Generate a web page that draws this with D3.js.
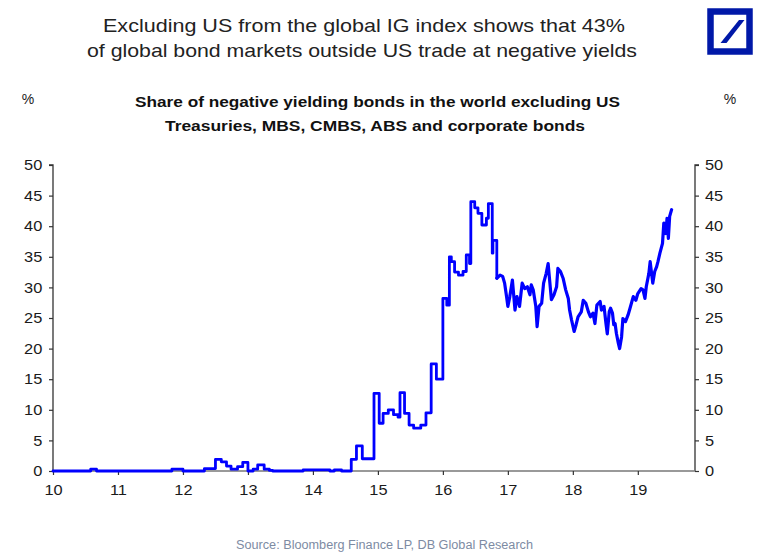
<!DOCTYPE html>
<html>
<head>
<meta charset="utf-8">
<script src="https://cdn.jsdelivr.net/npm/d3@7"></script>
<style>
  html, body { margin: 0; padding: 0; background: #fff; }
  svg { display: block; font-family: "Liberation Sans", Arial, sans-serif; }
</style>
</head>
<body>
<svg id="chart" width="768" height="554"></svg>
<script>
// ---- Data ----
const titleLines = ["Excluding US from the global IG index shows that 43%",
                    "of global bond markets outside US trade at negative yields"];
const subtitleLines = ["Share of negative yielding bonds in the world excluding US",
                       "Treasuries, MBS, CMBS, ABS and corporate bonds"];
const sourceText = "Source: Bloomberg Finance LP, DB Global Research";
const xTickYears = [2010, 2011, 2012, 2013, 2014, 2015, 2016, 2017, 2018, 2019];
const yTicks = [0, 5, 10, 15, 20, 25, 30, 35, 40, 45, 50];

// Monthly-looking (stepped) part of the series: fractional year, % share
const stepDates = [2010.00, 2010.58, 2010.67, 2011.83, 2012.00, 2012.33, 2012.50, 2012.59, 2012.67,
  2012.74, 2012.84, 2012.92, 2013.00, 2013.08, 2013.15, 2013.25, 2013.33, 2013.38, 2013.85,
  2014.26, 2014.33, 2014.44, 2014.59, 2014.67, 2014.76, 2014.94, 2015.02, 2015.08, 2015.16,
  2015.24, 2015.31, 2015.34, 2015.41, 2015.48, 2015.55, 2015.66, 2015.74, 2015.82, 2015.90,
  2016.00, 2016.06, 2016.10, 2016.13, 2016.18, 2016.24, 2016.31, 2016.36, 2016.41, 2016.43,
  2016.49, 2016.54, 2016.60, 2016.67, 2016.70, 2016.76, 2016.77, 2016.83];
const stepValues = [0, 0.3, 0, 0.3, 0, 0.4, 1.9, 1.5, 0.8,
  0.3, 0.7, 1.4, 0, 0.3, 1.0, 0.3, 0.1, 0, 0.2,
  0, 0.2, 0, 1.9, 4.1, 2.0, 12.7, 7.8, 9.4, 10.0,
  9.2, 8.8, 12.8, 9.4, 7.5, 7.0, 7.5, 9.5, 17.5, 15.0,
  28.2, 27.1, 35.0, 34.2, 32.5, 32.0, 32.6, 35.3, 33.9, 44.0,
  43.0, 42.1, 40.2, 41.3, 43.7, 35.6, 37.7, 31.5];

// Daily-looking (jagged) part of the series
const dailyDates = [2016.83, 2016.88, 2016.92, 2016.95, 2016.98, 2017.00, 2017.03, 2017.07, 2017.11,
  2017.14, 2017.18, 2017.22, 2017.26, 2017.30, 2017.34, 2017.36, 2017.39, 2017.43, 2017.45,
  2017.48, 2017.52, 2017.55, 2017.59, 2017.62, 2017.64, 2017.67, 2017.71, 2017.75, 2017.77,
  2017.81, 2017.85, 2017.89, 2017.93, 2017.95, 2017.98, 2018.02, 2018.05, 2018.08, 2018.13,
  2018.16, 2018.20, 2018.24, 2018.27, 2018.31, 2018.34, 2018.37, 2018.42, 2018.44, 2018.48,
  2018.51, 2018.53, 2018.56, 2018.58, 2018.61, 2018.63, 2018.65, 2018.67, 2018.70, 2018.72,
  2018.75, 2018.77, 2018.81, 2018.85, 2018.88, 2018.93, 2018.97, 2019.00, 2019.05, 2019.08,
  2019.11, 2019.13, 2019.17, 2019.19, 2019.23, 2019.26, 2019.29, 2019.31, 2019.34, 2019.38,
  2019.40, 2019.43, 2019.45, 2019.47, 2019.49, 2019.52];
const dailyValues = [31.5, 32.0, 31.8, 30.7, 28.5, 26.9, 28.5, 31.2, 26.3,
  28.5, 26.9, 30.7, 29.8, 30.1, 28.8, 30.4, 29.6, 26.9, 23.6,
  26.9, 27.4, 30.7, 32.3, 33.9, 31.5, 28.0, 28.8, 30.1, 33.1,
  32.6, 31.5, 29.6, 28.2, 26.3, 24.7, 22.8, 23.9, 25.2, 26.0,
  27.9, 27.4, 26.0, 25.2, 25.8, 24.1, 27.1, 27.7, 26.3, 26.9,
  24.1, 22.4, 26.0, 26.6, 25.8, 23.9, 24.1, 22.5, 20.9, 20.0,
  21.9, 24.9, 24.4, 25.5, 26.6, 28.5, 27.9, 29.0, 29.8, 29.6,
  28.2, 30.1, 32.3, 34.2, 30.7, 32.6, 33.4, 34.2, 35.6, 37.2,
  40.5, 38.8, 41.3, 38.0, 41.6, 42.7];

// ---- Layout ----
const svg = d3.select("#chart");
const plot = { left: 53, right: 695, top: 165, bottom: 471 };
const x = d3.scaleLinear().domain([2010, 2019.88]).range([plot.left, plot.right]);
const y = d3.scaleLinear().domain([0, 50]).range([plot.bottom, plot.top]);
const textColor = "#1a1a1a";
const axisColor = "#333";
const titleWidths = [522, 550];
const subtitleWidths = [485, 420];

// Title
svg.append("g").selectAll("text").data(titleLines).join("text")
  .attr("x", (d, i) => [364, 362][i]).attr("y", (d, i) => 32 + i * 25)
  .attr("text-anchor", "middle").attr("font-size", 18.5).attr("fill", "#222")
  .attr("textLength", (d, i) => titleWidths[i]).attr("lengthAdjust", "spacingAndGlyphs")
  .text(d => d);

// Subtitle
svg.append("g").selectAll("text").data(subtitleLines).join("text")
  .attr("x", (d, i) => [377.5, 375][i]).attr("y", (d, i) => 107 + i * 24)
  .attr("text-anchor", "middle").attr("font-size", 14).attr("font-weight", "bold").attr("fill", "#111")
  .attr("textLength", (d, i) => subtitleWidths[i]).attr("lengthAdjust", "spacingAndGlyphs")
  .text(d => d);

// % unit labels
svg.append("text").attr("x", 28).attr("y", 104).attr("text-anchor", "middle")
  .attr("font-size", 14).attr("fill", textColor).text("%");
svg.append("text").attr("x", 730).attr("y", 104).attr("text-anchor", "middle")
  .attr("font-size", 14).attr("fill", textColor).text("%");

// Logo (Deutsche Bank style)
const logo = svg.append("g");
logo.append("rect").attr("x", 710.5).attr("y", 11.5).attr("width", 39).attr("height", 40)
  .attr("fill", "#fff").attr("stroke", "#0018a8").attr("stroke-width", 6.5);
logo.append("path").attr("d", "M739,20 L744.5,20 L726.5,43 L720.5,43 Z").attr("fill", "#0018a8");

// Axes
const leftAxis = d3.axisLeft(y).tickValues(yTicks).tickSize(4).tickPadding(5.5).tickFormat(d3.format("d"));
const rightAxis = d3.axisRight(y).tickValues(yTicks).tickSize(4).tickPadding(4.8).tickFormat(d3.format("d"));
const bottomAxis = d3.axisBottom(x).tickValues(xTickYears).tickSize(4).tickPadding(10)
  .tickFormat(d => String(d % 100).padStart(2, "0"));

function styleAxis(g) {
  g.select(".domain").attr("stroke", axisColor).attr("stroke-width", 1.3);
  g.selectAll(".tick line").attr("stroke", axisColor).attr("stroke-width", 1.2);
  g.selectAll(".tick text").attr("fill", textColor).attr("font-size", 14.5)
    .attr("font-family", "'Liberation Sans', Arial, sans-serif")
    .attr("transform", "scale(1.13,1)");
}

svg.append("g").attr("transform", `translate(${plot.left},0)`).call(leftAxis).call(styleAxis)
  .call(g => g.select(".domain").attr("d", `M-4,${plot.top}H0V${plot.bottom}`));
svg.append("g").attr("transform", `translate(${plot.right},0)`).call(rightAxis).call(styleAxis)
  .call(g => g.select(".domain").attr("d", `M4,${plot.top}H0V${plot.bottom}`));
const bx = svg.append("g").attr("transform", `translate(0,${plot.bottom})`).call(bottomAxis).call(styleAxis);
bx.select(".domain").attr("stroke", "#777").attr("d", `M${plot.left},0H${plot.right}`);

// Series
const stepData = stepDates.map((d, i) => [d, stepValues[i]]);
const dailyData = dailyDates.map((d, i) => [d, dailyValues[i]]);
const stepLine = d3.line().x(d => x(d[0])).y(d => y(d[1])).curve(d3.curveStepAfter);
const linLine = d3.line().x(d => x(d[0])).y(d => y(d[1]));
const lineG = svg.append("g").attr("fill", "none").attr("stroke", "#0000ff")
  .attr("stroke-linejoin", "round").attr("stroke-linecap", "round");
lineG.append("path").attr("d", stepLine(stepData)).attr("stroke-width", 2.8);
lineG.append("path").attr("d", linLine(dailyData)).attr("stroke-width", 3.2);

// Source
svg.append("text").attr("x", 384.5).attr("y", 549).attr("text-anchor", "middle")
  .attr("font-size", 12).attr("fill", "#7d8ba3")
  .attr("textLength", 297).attr("lengthAdjust", "spacingAndGlyphs").text(sourceText);
</script>
</body>
</html>
